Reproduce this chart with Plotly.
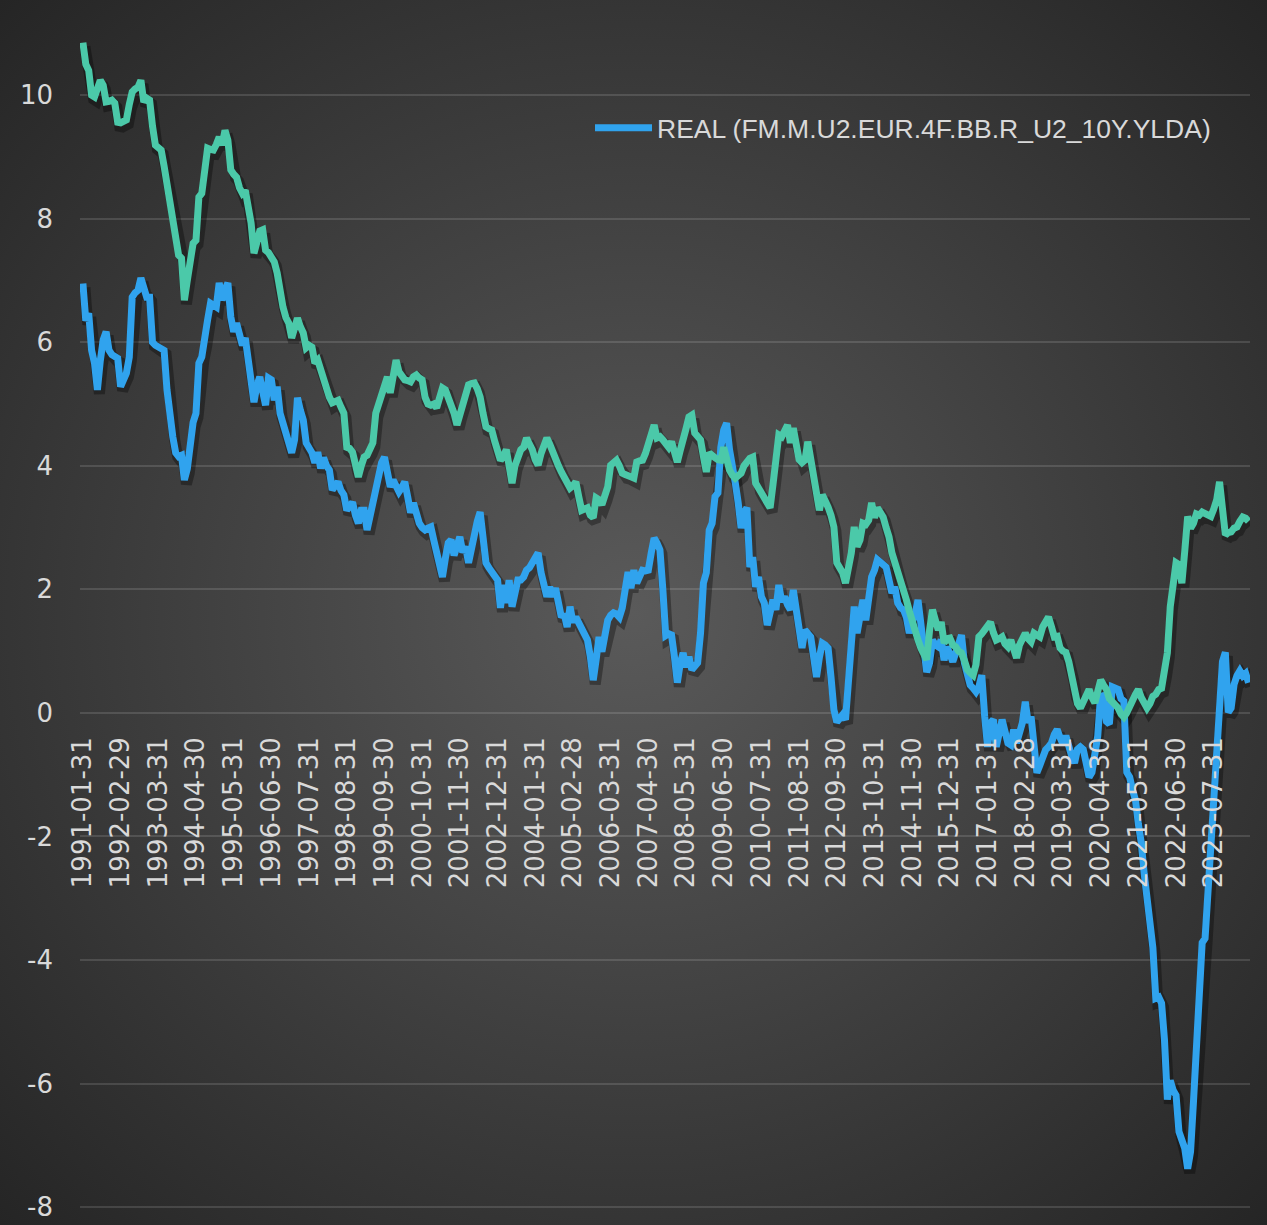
import base64
import pandas as pd
import plotly.graph_objects as go

# ---------------- data (monthly, 1991-01 .. 2024-07) ----------------
nominal = [
    10.85, 10.50, 10.40, 10.00, 9.97, 10.10, 10.24, 10.16, 9.89, 9.90, 9.92, 9.87,   # 1991
    9.56, 9.55, 9.58, 9.60, 9.85, 10.05, 10.10, 10.13, 10.24, 9.89, 9.95, 9.92,      # 1992
    9.50, 9.19, 9.15, 9.11, 8.85, 8.58, 8.25, 7.93, 7.65, 7.41, 7.36, 6.68,          # 1993
    7.00, 7.33, 7.60, 7.65, 8.35, 8.41, 8.80, 9.14, 9.12, 9.11, 9.20, 9.32,          # 1994
    9.19, 9.43, 9.27, 8.79, 8.72, 8.67, 8.50, 8.41, 8.46, 8.20, 7.93, 7.44,          # 1995
    7.60, 7.80, 7.82, 7.49, 7.45, 7.38, 7.30, 7.12, 6.80, 6.57, 6.40, 6.31,          # 1996
    6.07, 6.20, 6.39, 6.25, 6.15, 5.91, 5.95, 5.92, 5.66, 5.71, 5.55, 5.39,          # 1997
    5.25, 5.11, 5.02, 5.05, 5.06, 4.95, 4.85, 4.30, 4.28, 4.22, 3.98, 3.82,          # 1998
    4.00, 4.14, 4.17, 4.25, 4.37, 4.85, 5.00, 5.18, 5.30, 5.44, 5.18, 5.39,          # 1999
    5.71, 5.52, 5.45, 5.39, 5.38, 5.36, 5.44, 5.47, 5.42, 5.39, 5.11, 5.00,          # 2000
    4.98, 5.00, 4.94, 5.10, 5.26, 5.23, 5.10, 5.02, 4.85, 4.66, 4.85, 5.02,          # 2001
    5.20, 5.31, 5.33, 5.34, 5.25, 5.11, 4.85, 4.63, 4.60, 4.58, 4.40, 4.21,          # 2002
    4.09, 4.15, 4.26, 4.00, 3.72, 4.00, 4.17, 4.26, 4.30, 4.45, 4.35, 4.26,          # 2003
    4.10, 4.01, 4.20, 4.30, 4.45, 4.35, 4.21, 4.09, 4.00, 3.90, 3.82, 3.70,          # 2004
    3.64, 3.68, 3.74, 3.50, 3.28, 3.30, 3.32, 3.20, 3.16, 3.48, 3.45, 3.37,          # 2005
    3.50, 3.66, 4.01, 4.05, 4.09, 4.00, 3.88, 3.86, 3.85, 3.82, 3.80, 4.06,          # 2006
    4.08, 4.09, 4.20, 4.37, 4.50, 4.66, 4.45, 4.47, 4.42, 4.37, 4.30, 4.39,          # 2007
    4.20, 4.06, 4.25, 4.39, 4.60, 4.79, 4.82, 4.53, 4.48, 4.42, 4.15, 3.90,          # 2008
    4.21, 4.15, 4.13, 4.10, 4.09, 4.30, 4.10, 3.93, 3.85, 3.80, 3.84, 3.88,          # 2009
    4.00, 4.09, 4.12, 4.14, 3.72, 3.64, 3.55, 3.48, 3.40, 3.32, 3.70, 4.05,          # 2010
    4.50, 4.47, 4.55, 4.66, 4.37, 4.61, 4.35, 4.10, 4.05, 4.09, 4.39, 4.10,          # 2011
    3.85, 3.55, 3.28, 3.53, 3.45, 3.33, 3.20, 3.01, 2.43, 2.35, 2.27, 2.10,          # 2012
    2.30, 2.59, 3.01, 2.69, 2.80, 3.07, 3.05, 3.12, 3.40, 3.16, 3.32, 3.25,          # 2013
    3.17, 3.00, 2.85, 2.59, 2.45, 2.27, 2.10, 1.95, 1.83, 1.65, 1.46, 1.30,          # 2014
    1.18, 1.05, 0.95, 0.86, 1.34, 1.67, 1.50, 1.34, 1.47, 1.13, 1.20, 1.21,          # 2015
    1.10, 1.07, 1.00, 0.97, 0.85, 0.70, 0.65, 0.61, 0.78, 1.23, 1.28, 1.34,          # 2016
    1.40, 1.47, 1.30, 1.18, 1.20, 1.23, 1.12, 1.07, 1.18, 1.00, 0.89, 1.10,          # 2017
    1.20, 1.29, 1.20, 1.15, 1.29, 1.25, 1.23, 1.39, 1.45, 1.55, 1.40, 1.23,          # 2018
    1.24, 1.05, 1.00, 0.98, 0.83, 0.60, 0.31, 0.15, 0.08, 0.20, 0.27, 0.38,          # 2019
    0.25, 0.16, 0.35, 0.53, 0.45, 0.38, 0.23, 0.18, 0.12, 0.08, -0.02, -0.07,        # 2020
    0.00, 0.08, 0.20, 0.30, 0.38, 0.25, 0.15, 0.08, 0.15, 0.27, 0.30, 0.38,          # 2021
    0.40, 0.65, 0.97, 1.72, 2.17, 2.43, 2.40, 2.10, 2.62, 3.18, 2.99, 3.07,          # 2022
    3.22, 3.20, 3.25, 3.22, 3.20, 3.18, 3.30, 3.45, 3.74, 3.29, 2.88, 2.92,          # 2023
    2.93, 2.99, 3.01, 3.10, 3.17, 3.15, 3.10,                                        # 2024
]

real = [
    6.95, 6.35, 6.47, 5.87, 5.66, 5.23, 5.70, 6.04, 6.17, 5.87, 5.80, 5.76,          # 1991
    5.74, 5.28, 5.40, 5.50, 5.76, 6.73, 6.80, 6.84, 7.04, 6.85, 6.73, 6.73,          # 1992
    6.00, 5.95, 5.92, 5.90, 5.87, 5.23, 4.80, 4.47, 4.21, 4.15, 4.17, 3.77,          # 1993
    3.95, 4.47, 4.70, 4.85, 5.66, 5.76, 6.00, 6.36, 6.63, 6.60, 6.57, 6.96,          # 1994
    6.68, 6.85, 6.96, 6.41, 6.17, 6.31, 6.10, 5.95, 6.07, 5.75, 5.44, 5.03,          # 1995
    5.30, 5.44, 5.20, 4.98, 5.42, 5.39, 5.06, 5.28, 4.85, 4.69, 4.50, 4.37,          # 1996
    4.21, 4.42, 5.10, 4.90, 4.74, 4.37, 4.30, 4.21, 4.05, 4.22, 3.96, 4.13,          # 1997
    4.00, 3.93, 3.61, 3.70, 3.74, 3.60, 3.53, 3.28, 3.35, 3.41, 3.20, 3.07,          # 1998
    3.28, 3.28, 2.96, 3.20, 3.45, 3.70, 3.88, 4.05, 4.14, 3.90, 3.66, 3.77,          # 1999
    3.70, 3.58, 3.65, 3.74, 3.50, 3.24, 3.40, 3.20, 3.07, 3.00, 2.96, 2.99,          # 2000
    3.01, 2.80, 2.59, 2.35, 2.20, 2.50, 2.75, 2.80, 2.55, 2.70, 2.85, 2.60,          # 2001
    2.69, 2.43, 2.70, 2.91, 3.10, 3.25, 2.80, 2.43, 2.35, 2.28, 2.20, 2.15,          # 2002
    1.70, 2.07, 1.78, 2.15, 1.72, 2.00, 2.15, 2.15, 2.20, 2.31, 2.35, 2.43,          # 2003
    2.50, 2.59, 2.27, 2.05, 1.88, 2.04, 1.88, 2.02, 1.80, 1.55, 1.60, 1.39,          # 2004
    1.72, 1.47, 1.55, 1.45, 1.34, 1.25, 1.18, 0.91, 0.53, 0.86, 1.23, 0.99,          # 2005
    1.20, 1.50, 1.58, 1.62, 1.60, 1.55, 1.70, 1.94, 2.28, 2.02, 2.31, 2.10,          # 2006
    2.20, 2.31, 2.30, 2.31, 2.59, 2.83, 2.75, 2.64, 2.00, 1.25, 1.28, 1.26,          # 2007
    0.91, 0.49, 0.80, 0.97, 0.74, 0.91, 0.70, 0.75, 0.81, 1.29, 2.10, 2.27,          # 2008
    2.96, 3.07, 3.50, 3.56, 4.30, 4.58, 4.69, 4.26, 4.05, 3.72, 3.40, 2.99,          # 2009
    3.24, 3.32, 2.36, 2.52, 2.04, 2.20, 1.88, 1.78, 1.42, 1.60, 1.83, 1.67,          # 2010
    2.07, 1.80, 1.88, 1.75, 1.67, 1.99, 1.62, 1.30, 1.05, 1.34, 1.28, 1.23,          # 2011
    0.91, 0.58, 0.90, 1.13, 1.10, 1.05, 0.58, 0.05, -0.15, -0.08, -0.03, -0.11,      # 2012
    0.65, 1.29, 1.72, 1.29, 1.50, 1.83, 1.50, 1.90, 2.20, 2.31, 2.48, 2.44,          # 2013
    2.40, 2.36, 2.15, 1.94, 2.04, 1.78, 1.70, 1.67, 1.55, 1.29, 1.46, 1.60,          # 2014
    1.83, 1.46, 1.02, 0.66, 0.81, 1.18, 1.10, 1.07, 1.18, 0.85, 1.07, 0.95,          # 2015
    0.83, 0.97, 1.10, 1.26, 0.81, 0.60, 0.45, 0.40, 0.34, 0.42, 0.61, -0.06,         # 2016
    -0.55, -0.16, -0.11, -0.55, -0.27, -0.11, -0.30, -0.49, -0.52, -0.27, -0.49, -0.30,  # 2017
    -0.16, 0.18, -0.16, -0.06, -0.49, -0.97, -0.85, -0.71, -0.60, -0.55, -0.49, -0.35,   # 2018
    -0.27, -0.40, -0.51, -0.37, -0.59, -0.70, -0.81, -0.59, -0.55, -0.59, -0.81, -1.04,  # 2019
    -0.96, -0.60, -0.37, 0.31, 0.23, -0.14, -0.18, 0.42, 0.40, 0.38, 0.23, 0.19,         # 2020
    -0.96, -1.04, -1.25, -1.41, -1.80, -2.10, -2.60, -3.00, -3.30, -3.80, -4.62, -4.60,  # 2021
    -4.70, -5.29, -6.26, -5.95, -6.11, -6.19, -6.78, -6.95, -7.05, -7.38, -7.10, -6.30,  # 2022
    -5.44, -4.92, -3.72, -3.65, -2.90, -2.08, -1.71, -0.90, -0.10, 0.83, 0.98, 0.01,     # 2023
    0.08, 0.46, 0.60, 0.68, 0.60, 0.64, 0.49,                                            # 2024
]

dates = pd.date_range("1991-01-31", periods=len(real), freq="ME").strftime("%Y-%m-%d").tolist()
tick_labels = dates[::13]
y_ticks = [-8, -6, -4, -2, 0, 2, 4, 6, 8, 10]
y_tick_text = ["-8", "-6", "-4", "-2", "0", "2", "4", "6", "8", "10"]

real_name = "REAL (FM.M.U2.EUR.4F.BB.R_U2_10Y.YLDA)"
nominal_name = "NOMINAL"

# ---------------- figure ----------------
W, H = 1267, 1225
ML, MR = 80, 17
XR = [-1.0, len(real) - 0.5]
YR = [-8.29, 11.54]
px_x = (W - ML - MR) / (XR[1] - XR[0])
px_y = H / (YR[1] - YR[0])
sx, sy = 2.0, 4.0  # shadow offset in px
XR_sh = [XR[0] - sx / px_x, XR[1] - sx / px_x]
YR_sh = [YR[0] + sy / px_y, YR[1] + sy / px_y]

BLUE = "#30a3ee"
GREEN = "#4bc9a9"
TXT = "#d9d9d9"

fig = go.Figure()
for vals in (real, nominal):
    fig.add_trace(go.Scatter(x=dates, y=vals, mode="lines", xaxis="x", yaxis="y",
                             line=dict(color="rgba(0,0,0,0.33)", width=11),
                             showlegend=False, hoverinfo="skip"))
fig.add_trace(go.Scatter(x=dates, y=real, mode="lines", name=real_name,
                         xaxis="x2", yaxis="y2", line=dict(color=BLUE, width=7)))
fig.add_trace(go.Scatter(x=dates, y=nominal, mode="lines", name=nominal_name,
                         xaxis="x2", yaxis="y2", showlegend=False,
                         line=dict(color=GREEN, width=7)))

svg = (f'<svg xmlns="http://www.w3.org/2000/svg" width="{W}" height="{H}">'
       '<defs><radialGradient id="g" cx="50%" cy="50%" r="72%">'
       '<stop offset="0%" stop-color="#5a5a5a"/>'
       '<stop offset="100%" stop-color="#242424"/>'
       '</radialGradient></defs>'
       f'<rect width="{W}" height="{H}" fill="url(#g)"/></svg>')
src = "data:image/svg+xml;base64," + base64.b64encode(svg.encode()).decode()

plot_w = W - ML - MR
zero_pos = (0 - YR[0]) / (YR[1] - YR[0])

fig.update_layout(
    width=W, height=H,
    margin=dict(l=ML, r=MR, t=0, b=0),
    paper_bgcolor="#3a3a3a",
    plot_bgcolor="rgba(0,0,0,0)",
    images=[dict(source=src, xref="paper", yref="paper",
                 x=-ML / plot_w, y=1, sizex=W / plot_w, sizey=1,
                 xanchor="left", yanchor="top", sizing="stretch", layer="below")],
    xaxis=dict(type="category", range=XR_sh, showgrid=False, showticklabels=False,
               zeroline=False, showline=False, ticks=""),
    yaxis=dict(range=YR_sh, showgrid=False, showticklabels=False,
               zeroline=False, showline=False, ticks=""),
    xaxis2=dict(type="category", overlaying="x", range=XR, anchor="free", position=zero_pos,
                tickmode="array", tickvals=tick_labels, ticktext=tick_labels,
                tickangle=-90, ticks="", showgrid=False, zeroline=False, showline=False,
                tickfont=dict(family="DejaVu Sans", size=26, color=TXT),
                ticklabelstandoff=18),
    yaxis2=dict(overlaying="y", range=YR, anchor="x2", side="left",
                tickmode="array", tickvals=y_ticks, ticktext=y_tick_text,
                showgrid=True, gridcolor="rgba(255,255,255,0.13)", gridwidth=1.5,
                zeroline=False, showline=False, ticks="",
                tickfont=dict(family="DejaVu Sans", size=26, color=TXT),
                ticklabelstandoff=26),
    legend=dict(x=(590 - ML) / plot_w, y=1 - 128 / H, xanchor="left", yanchor="middle",
                bgcolor="rgba(0,0,0,0)", itemwidth=57,
                font=dict(family="Liberation Sans", size=26.5, color=TXT)),
    showlegend=True,
)

fig.write_html("out.html",
               config={"displayModeBar": False},
               post_script="document.body.style.margin='0';document.body.style.overflow='hidden';")
